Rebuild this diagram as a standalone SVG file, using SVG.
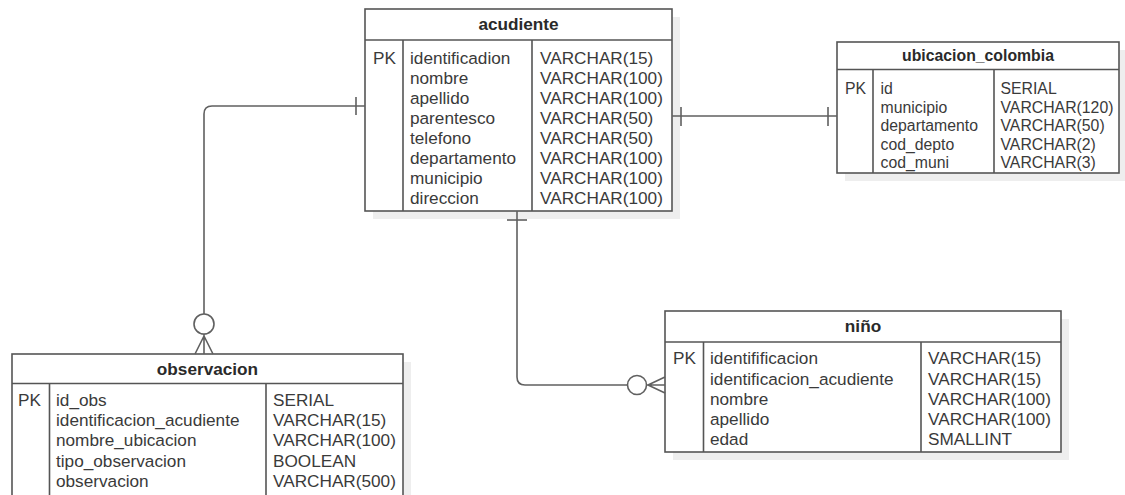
<svg xmlns="http://www.w3.org/2000/svg" width="1125" height="495" viewBox="0 0 1125 495">
<style>
.shadow{fill:#eeeeee;stroke:none}
.box{fill:#ffffff;stroke:#555555;stroke-width:1.6}
.div{stroke:#555555;stroke-width:1.6;fill:none}
.t{font-family:"Liberation Sans",Arial,sans-serif;font-size:17.2px;fill:#3a3a3a}
.s{font-family:"Liberation Sans",Arial,sans-serif;font-size:15.8px;fill:#3a3a3a}
.h{font-family:"Liberation Sans",Arial,sans-serif;font-weight:bold;fill:#2a2a2a;text-anchor:middle}
.c{stroke:#606060;stroke-width:1.6;fill:none}
.ci{stroke:#606060;stroke-width:1.6;fill:#ffffff}
</style>
<rect width="1125" height="495" fill="#ffffff"/>
<g id="shadows">
<rect class="shadow" x="373" y="17" width="307" height="202"/>
<rect class="shadow" x="845" y="50" width="282" height="131"/>
<rect class="shadow" x="20" y="362" width="391" height="145"/>
<rect class="shadow" x="673" y="319" width="396" height="141"/>
</g>
<g id="acudiente">
<rect class="box" x="365" y="9" width="307" height="202"/>
<path class="div" d="M365,40 H672 M403,40 V211 M532,40 V211"/>
<text class="h" x="518.5" y="30" font-size="17.2">acudiente</text>
<text class="t" x="373" y="64">PK</text>
<text class="t" x="410" y="64">identificadion</text>
<text class="t" x="410" y="84">nombre</text>
<text class="t" x="410" y="104">apellido</text>
<text class="t" x="410" y="124">parentesco</text>
<text class="t" x="410" y="144">telefono</text>
<text class="t" x="410" y="164">departamento</text>
<text class="t" x="410" y="184">municipio</text>
<text class="t" x="410" y="204">direccion</text>
<text class="t" x="540" y="64">VARCHAR(15)</text>
<text class="t" x="540" y="84">VARCHAR(100)</text>
<text class="t" x="540" y="104">VARCHAR(100)</text>
<text class="t" x="540" y="124">VARCHAR(50)</text>
<text class="t" x="540" y="144">VARCHAR(50)</text>
<text class="t" x="540" y="164">VARCHAR(100)</text>
<text class="t" x="540" y="184">VARCHAR(100)</text>
<text class="t" x="540" y="204">VARCHAR(100)</text>
</g>
<g id="ubicacion_colombia">
<rect class="box" x="837" y="42" width="282" height="131"/>
<path class="div" d="M837,69.5 H1119 M873,69.5 V173 M994,69.5 V173"/>
<text class="h" x="978" y="61" font-size="15.8">ubicacion_colombia</text>
<text class="s" x="845" y="94.3">PK</text>
<text class="s" x="880.5" y="94.3">id</text>
<text class="s" x="880.5" y="112.8">municipio</text>
<text class="s" x="880.5" y="131.3">departamento</text>
<text class="s" x="880.5" y="149.8">cod_depto</text>
<text class="s" x="880.5" y="168.3">cod_muni</text>
<text class="s" x="1000.5" y="94.3">SERIAL</text>
<text class="s" x="1000.5" y="112.8">VARCHAR(120)</text>
<text class="s" x="1000.5" y="131.3">VARCHAR(50)</text>
<text class="s" x="1000.5" y="149.8">VARCHAR(2)</text>
<text class="s" x="1000.5" y="168.3">VARCHAR(3)</text>
</g>
<g id="observacion">
<rect class="box" x="12" y="354" width="391" height="145"/>
<path class="div" d="M12,383.5 H403 M49.5,383.5 V499 M266,383.5 V499"/>
<text class="h" x="207.5" y="374.7" font-size="17.2">observacion</text>
<text class="t" x="18" y="406">PK</text>
<text class="t" x="56" y="406">id_obs</text>
<text class="t" x="56" y="426.2">identificacion_acudiente</text>
<text class="t" x="56" y="446.4">nombre_ubicacion</text>
<text class="t" x="56" y="466.6">tipo_observacion</text>
<text class="t" x="56" y="486.8">observacion</text>
<text class="t" x="273" y="406">SERIAL</text>
<text class="t" x="273" y="426.2">VARCHAR(15)</text>
<text class="t" x="273" y="446.4">VARCHAR(100)</text>
<text class="t" x="273" y="466.6">BOOLEAN</text>
<text class="t" x="273" y="486.8">VARCHAR(500)</text>
</g>
<g id="nino">
<rect class="box" x="665" y="311" width="396" height="141"/>
<path class="div" d="M665,342 H1061 M703.5,342 V452 M921,342 V452"/>
<text class="h" x="863" y="332" font-size="17.2">niño</text>
<text class="t" x="673" y="364.3">PK</text>
<text class="t" x="710" y="364.3">identifificacion</text>
<text class="t" x="710" y="384.5">identificacion_acudiente</text>
<text class="t" x="710" y="404.7">nombre</text>
<text class="t" x="710" y="424.9">apellido</text>
<text class="t" x="710" y="445.1">edad</text>
<text class="t" x="928" y="364.3">VARCHAR(15)</text>
<text class="t" x="928" y="384.5">VARCHAR(15)</text>
<text class="t" x="928" y="404.7">VARCHAR(100)</text>
<text class="t" x="928" y="424.9">VARCHAR(100)</text>
<text class="t" x="928" y="445.1">SMALLINT</text>
</g>
<g id="connectors">
<path class="c" d="M365,106 H212 Q204,106 204,114 V314"/>
<path class="c" d="M356,97 V115"/>
<circle class="ci" cx="204" cy="324" r="10"/>
<path class="c" d="M204,334 V354 M204,336 L195,354 M204,336 L213,354"/>
<path class="c" d="M672,116 H837 M681,107 V126 M828,107 V126"/>
<path class="c" d="M517,211 V377 Q517,385 525,385 H627"/>
<path class="c" d="M507,220 H527"/>
<circle class="ci" cx="637" cy="385" r="9.5"/>
<path class="c" d="M646.5,385 H665 M648,385 L665,377 M648,385 L665,393"/>
</g>
</svg>
